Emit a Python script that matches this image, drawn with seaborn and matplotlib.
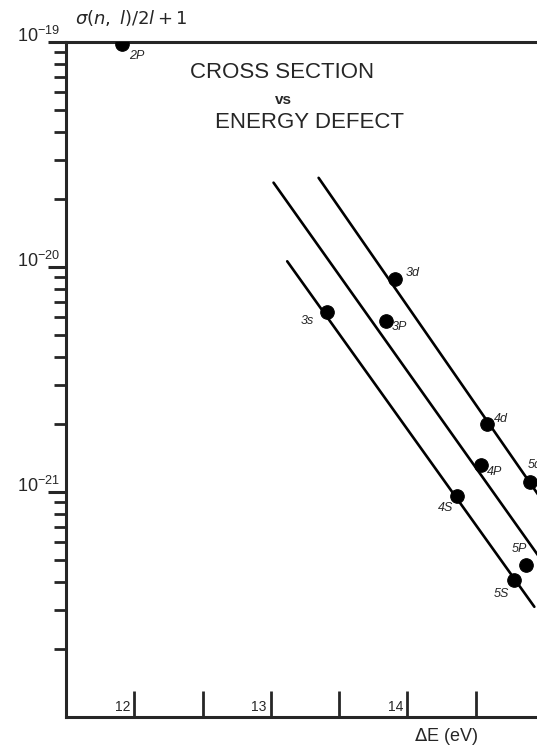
#python 3 script to redraw the cross section vs energy defect plot
import pandas as pd
import seaborn as sns
import matplotlib.pyplot as plt
from matplotlib.ticker import LogLocator, NullFormatter

# measured points (state, energy defect in eV, cross section)
states = ["2P", "3s", "3P", "3d", "4S", "4P", "4d", "5S", "5P", "5d"]
delta_e = [11.91, 13.41, 13.84, 13.91, 14.36, 14.54, 14.58, 14.78, 14.87, 14.90]
sigma = [9.8e-20, 6.28e-21, 5.73e-21, 8.8e-21, 9.6e-22, 1.32e-21, 2.0e-21, 4.07e-22, 4.75e-22, 1.11e-21]

# straight lines drawn through the s, p and d series (end points)
s_line_e = [13.12, 14.93]
s_line_sigma = [1.06e-20, 3.09e-22]
p_line_e = [13.02, 14.97]
p_line_sigma = [2.37e-20, 5.1e-22]
d_line_e = [13.35, 14.97]
d_line_sigma = [2.49e-20, 9.5e-22]

x_ticks = [12, 12.5, 13, 13.5, 14, 14.5, 15]
x_tick_labels = {12: "12", 13: "13", 14: "14"}
y_ticks = [1e-21, 1e-20, 1e-19]

# where each state label sits relative to its dot (points)
label_offsets = {"2P": (11, -9), "3s": (-14, -6), "3P": (10, -4), "3d": (13, 5),
                 "4S": (-8, -9), "4P": (10, -5), "4d": (10, 4), "5S": (-9, -10),
                 "5P": (-5, 11), "5d": (3, 12)}

sns.set_style("ticks")
plt.rcParams["font.family"] = ["Liberation Sans", "DejaVu Sans"]
plt.rcParams["mathtext.fontset"] = "dejavusans"

points = pd.DataFrame({"state": states, "delta_e": delta_e, "sigma": sigma})
lines = pd.DataFrame({
    "series": ["s"] * 2 + ["p"] * 2 + ["d"] * 2,
    "delta_e": s_line_e + p_line_e + d_line_e,
    "sigma": s_line_sigma + p_line_sigma + d_line_sigma,
})

fig = plt.figure(figsize=(5.37, 7.48), dpi=100)
ax = fig.add_axes([0.1229, 0.0414, 0.9408, 0.9025])

for name, grp in lines.groupby("series"):
    sns.lineplot(data=grp, x="delta_e", y="sigma", ax=ax, color="black", lw=1.9)
sns.scatterplot(data=points, x="delta_e", y="sigma", ax=ax, color="black",
                s=95, edgecolor="black", zorder=3)

ax.set_yscale("log")
ax.set_xlim(11.5, 15.2)
ax.set_ylim(1e-22, 1e-19)

for _, row in points.iterrows():
    ax.annotate(row["state"], (row["delta_e"], row["sigma"]),
                xytext=label_offsets[row["state"]], textcoords="offset points",
                ha="center", va="center", fontsize=9, style="italic")

# axes look
for side in ["left", "bottom", "top"]:
    ax.spines[side].set_linewidth(2.2)
ax.spines["right"].set_visible(False)

ax.set_xticks(x_ticks)
ax.set_xticklabels([])
ax.tick_params(axis="x", direction="in", length=19, width=2)
for t in x_ticks:
    if t in x_tick_labels:
        ax.annotate(x_tick_labels[t], (t, 0), xycoords=("data", "axes fraction"),
                    xytext=(-3, 2), textcoords="offset points",
                    ha="right", va="bottom", fontsize=10)

ax.set_yticks(y_ticks)
ax.yaxis.set_minor_locator(LogLocator(base=10, subs=range(2, 10)))
ax.yaxis.set_minor_formatter(NullFormatter())
ax.tick_params(axis="y", which="major", direction="out", length=13, width=2.2,
               pad=-8.5, labelsize=13)
ax.tick_params(axis="y", which="minor", direction="out", length=8.5, width=2)
for lab in ax.get_yticklabels():
    lab.set_verticalalignment("baseline")

ax.set_xlabel(r"$\Delta$E (eV)", fontsize=13, va="center")
ax.xaxis.set_label_coords(0.752, -0.029)
ax.set_ylabel(r"$\sigma(n,\ l)/2l + 1$", fontsize=13, rotation=0, ha="left", va="center")
ax.yaxis.set_label_coords(0.018, 1.036)

fig.text(282 / 537, 1 - 72 / 748, "CROSS SECTION", ha="center", va="center", fontsize=16)
fig.text(283 / 537, 1 - 100 / 748, "vs", ha="center", va="center", fontsize=11, weight="bold")
fig.text(310 / 537, 1 - 122 / 748, "ENERGY DEFECT", ha="center", va="center", fontsize=16)

plt.savefig("out.png", dpi=100)
